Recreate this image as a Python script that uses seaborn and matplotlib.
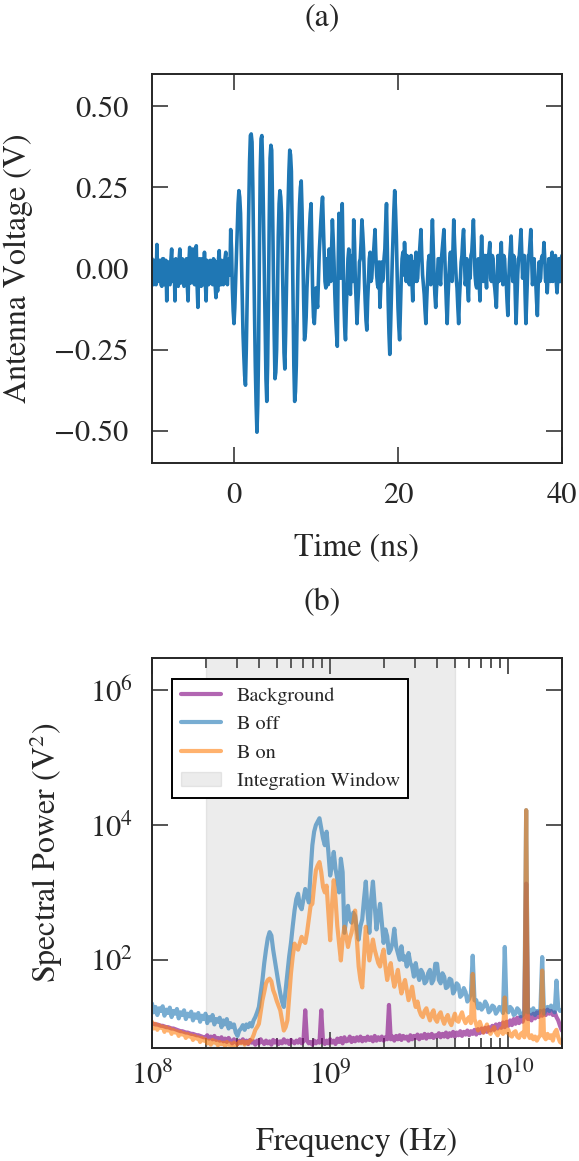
import numpy as np
import matplotlib
matplotlib.use("Agg")
import matplotlib.pyplot as plt
from matplotlib.ticker import LogLocator, NullLocator, FixedLocator
import seaborn as sns

# ---------------- data ----------------
# (a) antenna trace in mV; samples at -10.0, -9.8, ... 40.0 ns
volt_mv = [
    30, -50, 20, 74, -40,   25, -55, 30, -45, -100,   20, -50, 60, -30, -100,
    25, -55, 60, -40, 20,   -45, 30, -100, 65, -40,   60, -50, 70, -120, 30,
    -55, 20, 50, -100, 10,  -40, 20, -50, 25, -90,    -70, 55, -50, 20, -45,
    50, -50, 30, 120, -60,
    -170, -40, 130, 240, 170,   -80, -270, -360, -100, 200,   410, 390, 50, -300, -505,
    -250, 300, 410, 150, -200,  -410, -100, 340, 365, 0,      -340, -250, 100, 240, 170,
    -150, -310, -50, 200, 365,  300, -100, -410, -300, 0,     200, 270, 50, -220, -150,
    0, 120, 200, -80, -170,     -60, -120, 50, 150, 220,      40, -60, -20, 60, -40,
    150, 20, -150, -240, 170,   -30, 200, -100, -220, -50,    60, -80, 40, 150, -40,
    -170, -60, 30, 150, 60,     -100, -190, -40, 50, -30,     40, 120, -20, -60, -120,
    20, -30, 60, 200, -100,     -265, -80, 100, 240, 100,     -120, -220, -30, 50, 80,
    -40, 30, -50, 40, -100,     -40, 50, -30, 40, 120,        -20, -80, -170, -40, 40,
    -50, 150, -20, -120, -40,   30, -50, 60, 120, -40,        -170, -30, 50, -40, 150,
    20, -60, -170, -40, 40,     120, -50, 30, -100, -30,      50, 150, -20, -60, 30,
    -100, 100, -40, 40, -60,    20, 80, -40, 30, -60,         -120, 40, -30, 80, -50,
    30, -40, -145, 20, 100,     -40, 30, -170, -20, 40,       120, -30, 40, -170, -20,
    40, 120, -50, 30, -40,      -145, 20, -30, 40, 80,        -40, -75, 30, -40, 50,
    -30, 40, -75, 30, -40,
    40,
]
# in-between samples at -9.9, -9.7, ... 39.9 ns
volt_mid_mv = [
    -45, 25, -50, -30, 25,   -50, 30, -50, 25, 20,     -45, 25, -40, 25, 30,
    -50, 25, -45, 30, -55,   25, -50, 20, -45, 30,     -45, 30, -50, 25, -50,
    30, -50, -40, 25, -50,   25, -45, 30, -50, 20,     25, -50, 25, -50, 30,
    -40, 25, -20, 60, -130,
    -120, 50, 200, 220, 40,     -200, -330, -250, 60, 330,    415, 250, -130, -420, -420,
    50, 400, 320, -30, -340,    -300, 150, 380, 200, -200,    -320, -100, 200, 220, 20,
    -260, -200, 80, 300, 350,   120, -300, -380, -150, 120,   250, 180, -100, -200, -60,
    50, 170, 60, -150, -120,    -100, -30, 100, 190, 130,     -40, 30, -50, 20, 60,
    90, -80, -200, 0, 60,       80, 40, -180, -120, 30,       -30, 30, -40, 80, -100,
    -110, 20, 80, 110, -30,     -160, -100, 30, -40, 20,      80, 40, -50, 20, -60,
    -40, 30, 140, 60, -200,     -180, 20, 180, 180, -20,      -180, -120, 30, -20, 20,
    40, -40, 30, -40, 20,       20, -40, 30, 80, 40,          -50, -130, -100, 20, -30,
    80, 60, -80, -60, 30,       -30, 30, 90, 40, -110,        -90, 20, -30, 60, 80,
    -30, -120, -90, 20, 90,     30, -30, -60, 20, 40,         100, 60, -50, 20, -40,
    20, 30, -30, -20, 40,       50, -30, 40, -40, -90,        -30, -40, 40, -20, 40,
    -30, -100, -40, 60, 20,     40, -80, -90, 30, 80,         40, 20, -80, -90, 40,
    80, 30, -30, -30, -100,     -50, -40, 30, 20, 30,         -30, -20, -30, 30, -40,
    30, -40, -20, -40, 30,
]

# (b) spectra as log10(P / V^2) * 100, grid 10^8.00 .. 10^10.30 Hz in 0.01-decade steps
logf_lo, logf_hi = 8.0, 10.3
background_log = [
    105, 105, 104, 104, 103, 102, 102, 101, 100, 100,
    99, 98, 98, 97, 96, 95, 94, 94, 93, 92,
    92, 91, 90, 90, 89, 88, 88, 87, 86, 85,
    85, 88, 83, 86, 82, 87, 81, 84, 80, 85,
    79, 83, 78, 84, 80, 76, 82, 78, 75, 80,
    77, 82, 76, 80, 75, 81, 77, 79, 74, 80,
    76, 82, 78, 75, 80, 76, 79, 74, 81, 77,
    80, 75, 79, 76, 82, 77, 80, 75, 81, 78,
    76, 80, 77, 82, 76, 79, 125, 80, 76, 78,
    74, 80, 76, 79, 77, 125, 78, 75, 80, 76,
    82, 77, 80, 75, 83, 78, 84, 76, 85, 79,
    80, 86, 78, 84, 79, 85, 80, 86, 79, 84,
    80, 86, 81, 85, 79, 87, 80, 85, 81, 86,
    80, 85, 82, 133, 82, 86, 80, 87, 82, 88,
    81, 87, 83, 86, 80, 88, 82, 87, 84, 89,
    82, 88, 84, 90, 83, 89, 85, 90, 84, 88,
    86, 91, 85, 90, 86, 92, 85, 91, 87, 93,
    86, 92, 88, 94, 87, 93, 89, 95, 88, 94,
    90, 96, 89, 97, 91, 98, 92, 99, 93, 100,
    95, 102, 96, 104, 98, 105, 99, 107, 100, 108,
    102, 110, 103, 112, 105, 114, 106, 115, 108, 116,
    313, 112, 118, 110, 120, 113, 122, 115, 124, 117,
    125, 118, 126, 120, 124, 118, 122, 115, 110, 102,
    95,
]
b_off_log = [
    135, 122, 130, 118, 128, 124, 131, 117, 126, 121,
    129, 115, 124, 120, 127, 113, 122, 118, 125, 112,
    120, 116, 123, 110, 119, 114, 121, 108, 117, 112,
    120, 106, 115, 110, 118, 104, 112, 108, 114, 100,
    110, 104, 112, 98, 106, 100, 104, 92, 87, 95,
    98, 103, 96, 104, 100, 106, 101, 110, 115, 122,
    130, 150, 170, 195, 215, 232, 241, 236, 215, 198,
    180, 165, 150, 138, 130, 155, 180, 205, 225, 250,
    273, 290, 298, 280, 275, 290, 305, 295, 285, 330,
    370, 390, 400, 405, 410, 395, 380, 370, 390, 360,
    325, 340, 360, 335, 320, 300, 350, 330, 240, 260,
    280, 260, 255, 270, 265, 245, 230, 250, 260, 290,
    316, 270, 240, 290, 316, 280, 245, 265, 283, 255,
    225, 245, 235, 210, 215, 225, 246, 220, 210, 200,
    220, 200, 205, 190, 210, 195, 190, 175, 195, 180,
    170, 185, 180, 165, 168, 180, 185, 165, 170, 194,
    194, 170, 165, 180, 175, 158, 160, 172, 170, 150,
    155, 165, 162, 145, 148, 158, 152, 138, 142, 150,
    206, 140, 140, 128, 135, 126, 130, 138, 133, 122,
    125, 132, 130, 120, 124, 130, 128, 121, 219, 126,
    122, 130, 127, 118, 120, 128, 125, 116, 118, 124,
    422, 122, 126, 120, 128, 118, 124, 121, 127, 204,
    120, 126, 130, 124, 132, 127, 122, 169, 128, 124,
    125,
]
b_on_log = [
    108, 98, 105, 96, 103, 99, 101, 93, 100, 95,
    98, 90, 96, 92, 94, 87, 93, 89, 91, 84,
    90, 86, 88, 81, 87, 83, 85, 78, 84, 80,
    82, 76, 80, 74, 81, 77, 79, 73, 78, 75,
    77, 72, 78, 74, 76, 71, 77, 73, 75, 78,
    76, 79, 74, 78, 76, 80, 82, 88, 96, 100,
    105, 122, 140, 152, 165, 170, 172, 168, 155, 148,
    139, 132, 125, 110, 95, 100, 110, 145, 180, 205,
    224, 218, 215, 225, 234, 228, 225, 240, 260, 280,
    283, 310, 333, 340, 345, 330, 308, 300, 310, 270,
    229, 280, 318, 290, 250, 225, 199, 230, 249, 235,
    219, 232, 240, 255, 273, 230, 190, 170, 159, 205,
    249, 225, 199, 215, 230, 215, 205, 195, 190, 205,
    215, 190, 170, 185, 195, 175, 160, 172, 185, 165,
    150, 162, 170, 155, 140, 150, 160, 142, 130, 138,
    125, 118, 115, 124, 128, 118, 110, 120, 125, 112,
    108, 118, 122, 112, 105, 113, 118, 108, 103, 112,
    120, 110, 108, 116, 122, 112, 106, 112, 115, 106,
    179, 112, 104, 95, 108, 100, 92, 98, 104, 94,
    90, 96, 100, 92, 88, 94, 98, 90, 144, 92,
    96, 88, 86, 92, 94, 86, 84, 90, 92, 85,
    422, 90, 84, 88, 82, 86, 80, 85, 88, 184,
    86, 82, 90, 84, 88, 80, 92, 96, 85, 78,
    76,
]
window_lo, window_hi = 2e8, 5e9

# ---------------- style ----------------
sns.set_style("ticks")
plt.rcParams["font.family"] = ["STIXGeneral", "DejaVu Serif"]
plt.rcParams["mathtext.fontset"] = "stix"
plt.rcParams["axes.linewidth"] = 1.4

# merge the two sample sets of the trace into one time axis
t_main = -10.0 + 0.2 * np.arange(len(volt_mv))
t_mid = -9.9 + 0.2 * np.arange(len(volt_mid_mv))
t = np.concatenate([t_main, t_mid])
v = np.concatenate([volt_mv, volt_mid_mv]) / 1000.0
order = np.argsort(t)
t, v = t[order], v[order]

fig = plt.figure(figsize=(5.79, 11.61), dpi=100)
ax_a = fig.add_axes([0.2625, 0.6012, 0.7081, 0.3351])
ax_b = fig.add_axes([0.2625, 0.0973, 0.7081, 0.3359])

# ---- (a) ----
sns.lineplot(x=t, y=v, ax=ax_a, color="#1f77b4", lw=2.6, estimator=None, sort=False)
ax_a.set_xlim(-10, 40)
ax_a.set_ylim(-0.6, 0.6)
ax_a.xaxis.set_major_locator(FixedLocator([0, 20, 40]))
ax_a.yaxis.set_major_locator(FixedLocator([-0.5, -0.25, 0, 0.25, 0.5]))
ax_a.set_yticklabels(["\u22120.50", "\u22120.25", "0.00", "0.25", "0.50"])
ax_a.set_xlabel("Time (ns)", fontsize=23)
ax_a.set_ylabel("Antenna Voltage (V)", fontsize=23)
ax_a.xaxis.set_label_coords(0.5, -0.18)
ax_a.yaxis.set_label_coords(-0.29, 0.5)
ax_a.tick_params(which="both", direction="in", top=True, right=True, labelsize=22)
ax_a.tick_params(which="major", length=11.5, width=1.1)
ax_a.tick_params(axis="y", pad=17)
ax_a.tick_params(axis="x", pad=14)

# ---- (b) ----
def spectrum(logp):
    f = np.logspace(logf_lo, logf_hi, len(logp))
    return f, 10 ** (np.array(logp) / 100.0)

for logp, col, lab in [(background_log, "purple", "Background"),
                       (b_off_log, "tab:blue", "B off"),
                       (b_on_log, "tab:orange", "B on")]:
    f, p = spectrum(logp)
    sns.lineplot(x=f, y=p, ax=ax_b, color=col, alpha=0.6, lw=3, label=lab,
                 estimator=None)
ax_b.axvspan(window_lo, window_hi, color="gray", alpha=0.15, label="Integration Window")
ax_b.set_xscale("log")
ax_b.set_yscale("log")
ax_b.set_xlim(1e8, 2e10)
ax_b.set_ylim(4.9, 3e6)
ax_b.xaxis.set_major_locator(LogLocator(base=10, numticks=10))
ax_b.xaxis.set_minor_locator(LogLocator(base=10, subs=np.arange(2, 10), numticks=20))
ax_b.yaxis.set_major_locator(FixedLocator([1e2, 1e4, 1e6]))
ax_b.yaxis.set_minor_locator(NullLocator())
ax_b.set_xlabel("Frequency (Hz)", fontsize=23)
ax_b.set_ylabel("Spectral Power (V$^2$)", fontsize=23)
ax_b.xaxis.set_label_coords(0.5, -0.205)
ax_b.yaxis.set_label_coords(-0.212, 0.5)
ax_b.tick_params(which="both", direction="in", top=True, right=True, labelsize=22)
ax_b.tick_params(which="major", length=11.5, width=1.1)
ax_b.tick_params(which="minor", length=7, width=1.1)
ax_b.tick_params(axis="y", pad=13.5)
ax_b.tick_params(axis="x", pad=10)
leg = ax_b.legend(loc="upper left", bbox_to_anchor=(0.05, 0.946), borderaxespad=0,
                  fontsize=14.5, fancybox=False, framealpha=1, edgecolor="black")
leg.get_frame().set_linewidth(1.4)

fig.text(0.556, 0.9845, "(a)", ha="center", va="center", fontsize=23)
fig.text(0.556, 0.4806, "(b)", ha="center", va="center", fontsize=23)

fig.savefig("out.png", dpi=100)
